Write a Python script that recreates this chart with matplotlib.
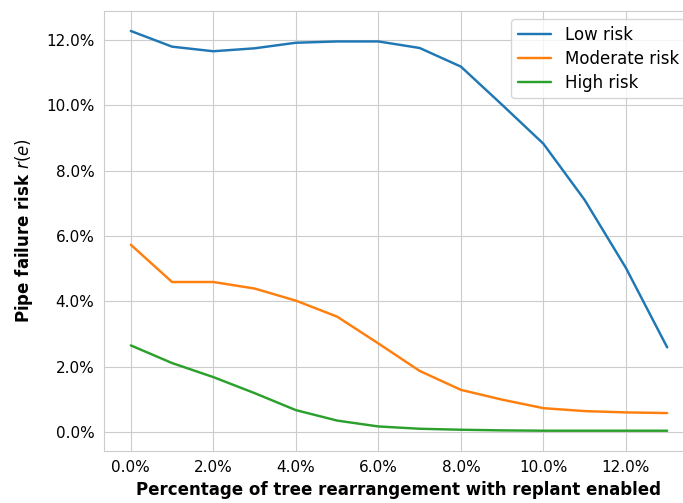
import numpy as np
import matplotlib
matplotlib.use("Agg")
import matplotlib.pyplot as plt
import seaborn as sns
from matplotlib.ticker import PercentFormatter

# share of trees rearranged (replant enabled)
rearrange = [0.00, 0.01, 0.02, 0.03, 0.04, 0.05, 0.06, 0.07, 0.08, 0.09, 0.10, 0.11, 0.12, 0.13]

# pipe failure risk r(e), in %
low_risk = [12.27, 11.79, 11.65, 11.74, 11.91, 11.95, 11.95, 11.75, 11.18, 10.01, 8.82, 7.10, 5.02, 2.59]
moderate_risk = [5.73, 4.59, 4.59, 4.39, 4.02, 3.53, 2.71, 1.87, 1.29, 0.99, 0.73, 0.64, 0.60, 0.58]
high_risk = [2.65, 2.11, 1.68, 1.19, 0.67, 0.35, 0.17, 0.10, 0.07, 0.05, 0.04, 0.04, 0.04, 0.04]

series = [("Low risk", low_risk), ("Moderate risk", moderate_risk), ("High risk", high_risk)]

sns.set_style("whitegrid")
plt.rcParams['font.family'] = ['DejaVu Sans']
plt.rcParams.update({"text.color": "black", "axes.labelcolor": "black",
                     "xtick.color": "black", "ytick.color": "black"})

fig = plt.figure(figsize=(6.83, 5.03), dpi=100)
# right edge of the axes runs past the figure (cropped in the original)
ax = fig.add_axes([104 / 683, 1 - 450.7 / 503, 590 / 683, (450.7 - 11) / 503])

for name, vals in series:
    ax.plot(rearrange, np.array(vals) / 100, label=name, lw=1.75)

ax.xaxis.set_major_formatter(PercentFormatter(1.0, decimals=1))
ax.yaxis.set_major_formatter(PercentFormatter(1.0, decimals=1))
ax.tick_params(labelsize=11)

ax.set_xlabel("Percentage of tree rearrangement with replant enabled", fontsize=12, fontweight="bold")
ax.set_ylabel("Pipe failure risk $r(e)$", fontsize=12, fontweight="bold", labelpad=8)
ax.legend(loc="upper right", fontsize=12, labelspacing=0.35)

fig.savefig("out.png", dpi=100)
